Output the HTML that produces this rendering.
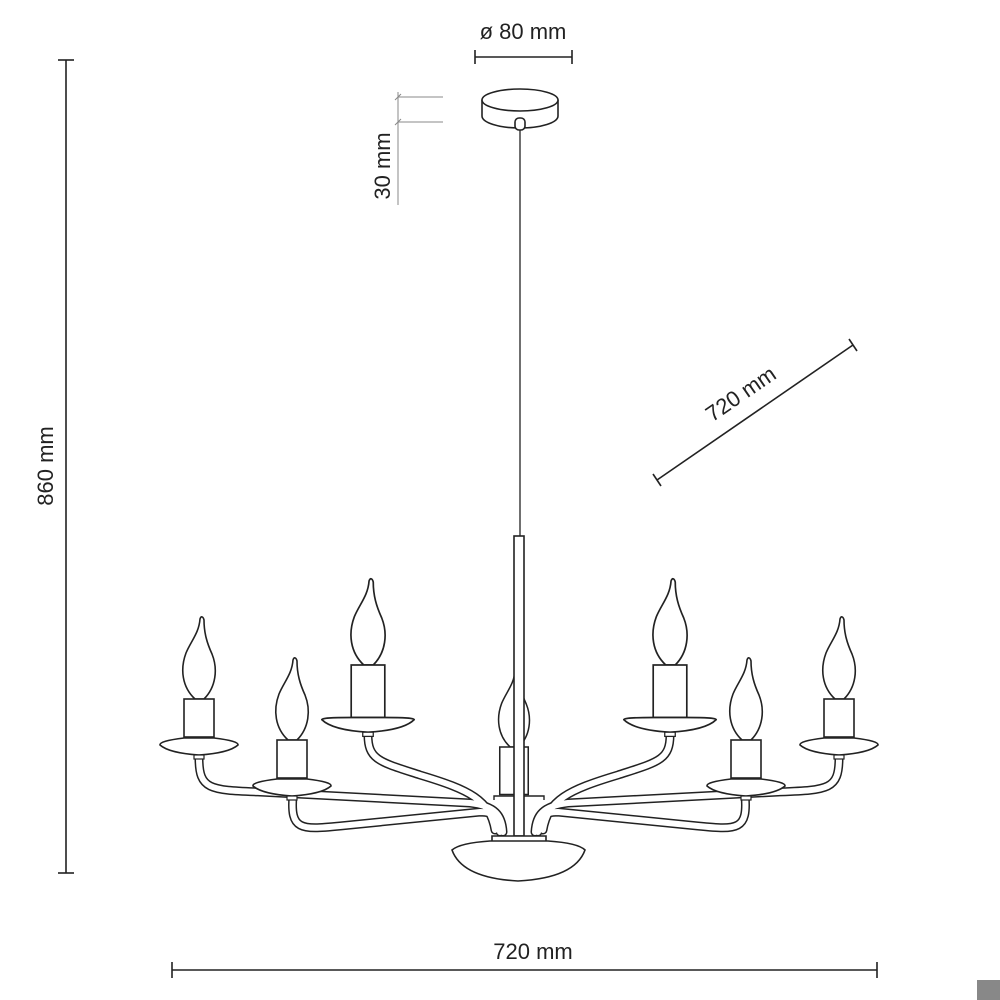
<!DOCTYPE html>
<html><head><style>
html,body{margin:0;padding:0;background:#fff;}
svg{display:block;}
text{font-family:"Liberation Sans",sans-serif;fill:#222;font-size:22px;}
</style></head><body>
<svg width="1000" height="1000" viewBox="0 0 1000 1000" xmlns="http://www.w3.org/2000/svg">
<defs>
<path id="flame" d="M-4,0 C-17,-12 -19,-30 -13,-46 C-8,-58 0,-66 1,-80 C2,-83 4,-83 5,-79 C5,-66 8,-56 13,-45 C19,-30 17,-12 5,0 Z" fill="#fff" stroke="#222" stroke-width="1.6"/>
<g id="candle">
  <use href="#flame"/>
  <rect x="-15" y="0" width="30" height="38" fill="#fff" stroke="#222" stroke-width="1.6"/>
  <path d="M-39,46 Q-40,42 -15,39 L15,39 Q40,42 39,46 Q30,54 0,56 Q-30,54 -39,46 Z" fill="#fff" stroke="#222" stroke-width="1.6"/>
  <rect x="-5" y="56" width="10" height="4" fill="#fff" stroke="#222" stroke-width="1.2"/>
</g>
<g id="candleB">
  <use href="#flame"/>
  <rect x="-16" y="0" width="32" height="50" fill="#fff" stroke="#222" stroke-width="1.6"/>
  <path d="M-44,52 Q-44,50 -16,50 L16,50 Q44,50 44,52 Q34,62 0,64 Q-34,62 -44,52 Z" fill="#fff" stroke="#222" stroke-width="1.6"/>
  <rect x="-5" y="64" width="10" height="4" fill="#fff" stroke="#222" stroke-width="1.2"/>
</g>
</defs>

<g stroke="#222" fill="none" stroke-width="1.6">
  <line x1="66" y1="60" x2="66" y2="873"/>
  <line x1="58" y1="60" x2="74" y2="60"/>
  <line x1="58" y1="873" x2="74" y2="873"/>
  <line x1="172" y1="970" x2="877" y2="970"/>
  <line x1="172" y1="962" x2="172" y2="978"/>
  <line x1="877" y1="962" x2="877" y2="978"/>
  <line x1="475" y1="57" x2="572" y2="57"/>
  <line x1="475" y1="50" x2="475" y2="64"/>
  <line x1="572" y1="50" x2="572" y2="64"/>
  <line x1="657" y1="480" x2="853" y2="345"/>
  <line x1="653" y1="474" x2="661" y2="486"/>
  <line x1="849" y1="339" x2="857" y2="351"/>
  <g stroke="#888" stroke-width="1">
    <line x1="398" y1="92" x2="398" y2="205"/>
    <line x1="398" y1="97" x2="443" y2="97"/>
    <line x1="398" y1="122" x2="443" y2="122"/>
    <line x1="395" y1="100" x2="401" y2="94"/>
    <line x1="395" y1="125" x2="401" y2="119"/>
  </g>
  <line x1="520" y1="128" x2="520" y2="540" stroke-width="1.3"/>
  <path d="M482,100 L482,116 A38,12 0 0 0 558,116 L558,100" fill="#fff"/>
  <ellipse cx="520" cy="100" rx="38" ry="11" fill="#fff"/>
  <rect x="515" y="118" width="10" height="12" rx="4" fill="#fff"/>
</g>

<!-- center back candle (no dish) -->
<g transform="translate(514,747) scale(0.95)">
  <use href="#flame"/>
  <rect x="-15" y="0" width="30" height="50" fill="#fff" stroke="#222" stroke-width="1.6"/>
</g>
<path d="M494,800 L494,796 L544,796 L544,800" fill="#fff" stroke="#222" stroke-width="1.4"/>

<g fill="none" stroke-linecap="round">
  <g stroke="#222" stroke-width="9">
    <path d="M368,735 C368,760 380,762 420,775 C470,790 490,800 495,830"/>
    <path d="M670,735 C670,760 658,762 618,775 C568,790 548,800 543,830"/>
    <path d="M199,758 C199,790 210,790 260,792 L470,803 C495,806 502,815 503,832"/>
    <path d="M839,758 C839,790 828,790 778,792 L568,803 C543,806 536,815 535,832"/>
    <path d="M293,795 C290,830 300,830 340,826 L480,812 C497,812 500,820 500,832"/>
    <path d="M745,795 C748,830 738,830 698,826 L558,812 C541,812 538,820 538,832"/>
  </g>
  <g stroke="#fff" stroke-width="6">
    <path d="M368,735 C368,760 380,762 420,775 C470,790 490,800 495,830"/>
    <path d="M670,735 C670,760 658,762 618,775 C568,790 548,800 543,830"/>
    <path d="M199,758 C199,790 210,790 260,792 L470,803 C495,806 502,815 503,832"/>
    <path d="M839,758 C839,790 828,790 778,792 L568,803 C543,806 536,815 535,832"/>
    <path d="M293,795 C290,830 300,830 340,826 L480,812 C497,812 500,820 500,832"/>
    <path d="M745,795 C748,830 738,830 698,826 L558,812 C541,812 538,820 538,832"/>
  </g>
</g>

<rect x="514" y="536" width="10" height="300" fill="#fff" stroke="#222" stroke-width="1.6"/>

<use href="#candleB" transform="translate(368,665) scale(1.05)"/>
<use href="#candleB" transform="translate(670,665) scale(1.05)"/>
<use href="#candle" transform="translate(199,699)"/>
<use href="#candle" transform="translate(839,699)"/>
<use href="#candle" transform="translate(292,740)"/>
<use href="#candle" transform="translate(746,740)"/>

<g stroke="#222" stroke-width="1.6" fill="#fff">
  <path d="M492,842 L492,836 L546,836 L546,842"/>
  <path d="M452,850 Q460,843 490,841 L548,841 Q578,843 585,850 Q575,878 518,881 Q462,878 452,850 Z"/>
</g>

<text x="523" y="39" text-anchor="middle">ø 80 mm</text>
<text x="533" y="959" text-anchor="middle">720 mm</text>
<text transform="translate(53,466) rotate(-90)" text-anchor="middle">860 mm</text>
<text transform="translate(390,166) rotate(-90)" text-anchor="middle">30 mm</text>
<text transform="translate(745,400) rotate(-34.5)" text-anchor="middle">720 mm</text>

<rect x="977" y="980" width="23" height="20" fill="#888"/>
</svg>
</body></html>
